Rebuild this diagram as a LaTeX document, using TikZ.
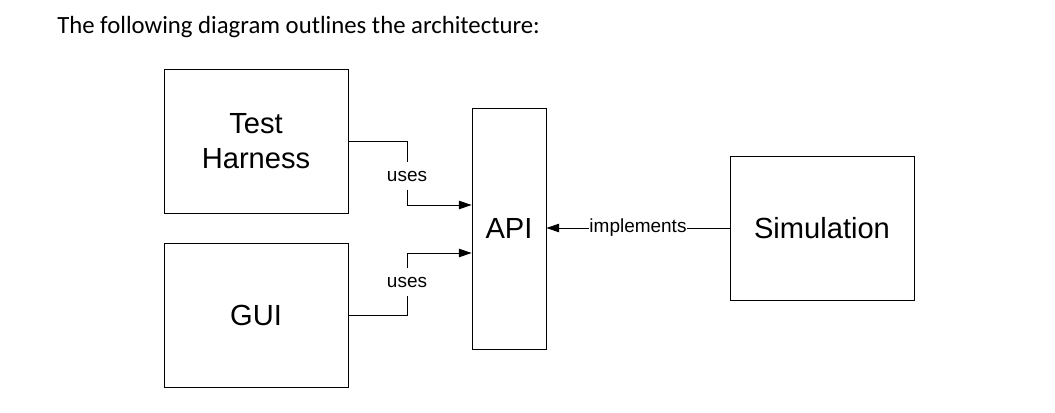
\documentclass[tikz,border=0pt]{standalone}
\usepackage{fontspec}
\setmainfont{Liberation Sans}
\newfontfamily\titlefont{Carlito}
\usetikzlibrary{arrows.meta}
\tikzset{
  block/.style={draw, line width=0.6pt, inner sep=0pt, minimum width=4.6cm, minimum height=3.6cm, align=center, font=\fontsize{20.7}{25}\selectfont},
  link/.style={line width=0.6pt},
  linklabel/.style={fill=white, inner sep=1.5pt, minimum height=19pt, font=\fontsize{13.5}{16}\selectfont}
}

\begin{document}
\begin{tikzpicture}[x=0.025cm, y=-0.025cm]
		%%%%% START %%%%%
		\useasboundingbox (0, 0) rectangle (1055, 413);
		
		\node[anchor=west, inner sep=0pt, font=\titlefont\fontsize{17.6}{20}\selectfont] (title) at (57, 27) {The following diagram outlines the architecture:};
		
		\node[block] (harness) at (256, 141) {Test\\Harness};
		\node[block] (gui) at (256, 315) {GUI};
		\node[block, minimum width=1.85cm, minimum height=6.025cm] (api) at (509, 228.5) {API};
		\node[block] (sim) at (822, 228) {Simulation};
		
		\node[linklabel] (uses1) at (407, 176) {uses};
		\node[linklabel] (uses2) at (407, 282) {uses};
		\coordinate (k1) at (407, 205);
		\coordinate (k2) at (407, 253);
		
		\draw[link] (harness.east) -| (uses1.north);
		\draw[link, -{Triangle[length=9pt, width=6pt]}] (uses1.south) -- (k1) -- (api.west |- k1);
		
		\draw[link] (gui.east) -| (uses2.south);
		\draw[link, -{Triangle[length=9pt, width=6pt]}] (uses2.north) -- (k2) -- (api.west |- k2);
		
		\draw[link, -{Triangle[length=9pt, width=6pt]}] (sim.west) -- (api.east |- sim.west);
		\node[linklabel, inner sep=0.5pt] (impl) at (638, 228) {implements};
		
		%%%%% END %%%%%
\end{tikzpicture}
\end{document}
